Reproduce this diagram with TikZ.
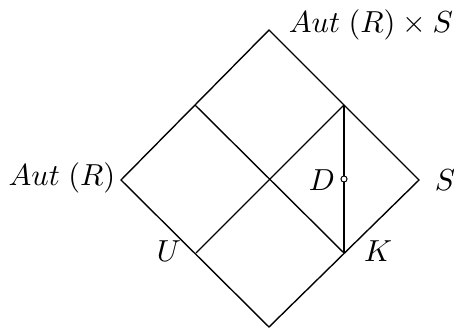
\documentclass[tikz,border=0pt]{standalone}
\begin{document}
\begin{tikzpicture}[x=0.36pt,y=-0.36pt,
  edge/.style={line width=0.5pt},
  thick edge/.style={line width=0.8pt},
  lbl/.style={inner sep=0pt, font=\fontsize{11.1pt}{13pt}\selectfont}]
\useasboundingbox (0,0) rectangle (454,329);
\coordinate (T) at (269,30);
\coordinate (L) at (121,180);
\coordinate (R) at (419,180);
\coordinate (B) at (269,327);
\coordinate (TL) at (195,105);
\coordinate (TR) at (344,105);
\coordinate (BL) at (196,253);
\coordinate (BR) at (344,253);
\draw[edge] (T) -- (R) -- (B) -- (L) -- cycle;
\draw[edge] (TL) -- (BR);
\draw[edge] (BL) -- (TR);
\draw[thick edge] (TR) -- (BR);
\node[draw, circle, inner sep=0pt, minimum size=2.2pt, line width=0.35pt, fill=white] (Dc) at (344,179) {};
\node[lbl] (topl) at (371,25) {$Aut\;(R)\times S$};
\node[lbl] (leftl) at (62,178) {$Aut\;(R)$};
\node[lbl] (rightl) at (445,180) {$S$};
\node[lbl] (Dl) at (322,180) {$D$};
\node[lbl] (Kl) at (378,251) {$K$};
\node[lbl] (Ul) at (169,251) {$U$};
\end{tikzpicture}
\end{document}
